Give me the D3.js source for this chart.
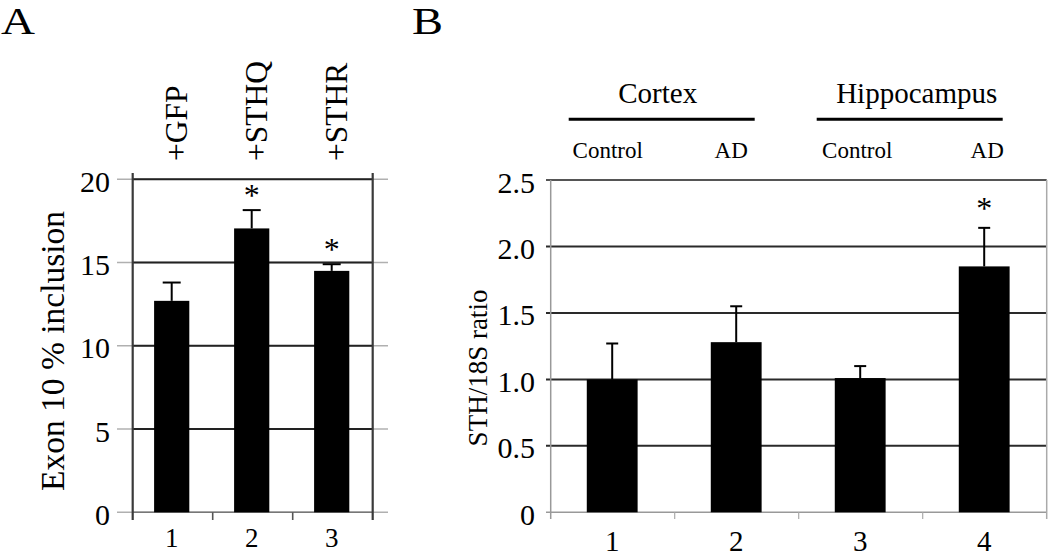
<!DOCTYPE html>
<html>
<head>
<meta charset="utf-8">
<script src="https://cdn.jsdelivr.net/npm/d3@7"></script>
<style>
  html, body { margin: 0; padding: 0; background: #fff; }
  svg { display: block; }
  text { font-family: "Liberation Serif", "Times New Roman", serif; fill: #000; }
</style>
</head>
<body>
<svg id="chart" width="1050" height="560"></svg>
<script>
// ---- Panel A data ----
const panelACategories = ["1", "2", "3"];
const panelATopLabels = ["+GFP", "+STHQ", "+STHR"];
const panelAValues = [12.7, 17.05, 14.5];
const panelAErrors = [1.1, 1.1, 0.4];
const panelASignificant = [false, true, true];
const panelATicks = [0, 5, 10, 15, 20];
const panelATickLabels = ["0", "5", "10", "15", "20"];
const panelAYLabel = "Exon 10 % inclusion";

// ---- Panel B data ----
const panelBCategories = ["1", "2", "3", "4"];
const panelBSubLabels = ["Control", "AD", "Control", "AD"];
const panelBGroupNames = ["Cortex", "Hippocampus"];
const panelBGroupFirst = [0, 2];
const panelBGroupLast = [1, 3];
const panelBValues = [1.0, 1.28, 1.01, 1.85];
const panelBErrors = [0.27, 0.27, 0.09, 0.29];
const panelBSignificant = [false, false, false, true];
const panelBTicks = [0, 0.5, 1.0, 1.5, 2.0, 2.5];
const panelBTickLabels = ["0", "0.5", "1.0", "1.5", "2.0", "2.5"];
const panelBYLabel = "STH/18S ratio";

const svg = d3.select("#chart");
svg.append("rect").attr("width", 1050).attr("height", 560).attr("fill", "#fff");

// ================= Panel A =================
const gA = svg.append("g");
const xA = d3.scaleBand().domain(panelACategories).range([132.7, 372.7]).padding(0);
const yA = d3.scaleLinear().domain([0, 20]).range([512.3, 179.3]);
const barWA = xA.bandwidth() * 0.44;
const cA = i => xA(panelACategories[i]) + xA.bandwidth() / 2 - 1;

// gridlines (outer grey extension, inner dark)
gA.selectAll("line.gridOut").data(panelATicks).join("line")
  .attr("x1", 117).attr("x2", 388)
  .attr("y1", d => yA(d)).attr("y2", d => yA(d))
  .attr("stroke", "#b0b0b0").attr("stroke-width", 1.5);
gA.selectAll("line.gridIn").data(panelATicks).join("line")
  .attr("x1", xA.range()[0]).attr("x2", xA.range()[1])
  .attr("y1", d => yA(d)).attr("y2", d => yA(d))
  .attr("stroke", d => d === 0 ? "#777" : "#222").attr("stroke-width", d => d === 0 ? 1.5 : 2);

// frame verticals
gA.selectAll("line.vert").data(xA.range()).join("line")
  .attr("x1", d => d).attr("x2", d => d)
  .attr("y1", 173).attr("y2", 520)
  .attr("stroke", "#3a3a3a").attr("stroke-width", 2.2);
// inner ticks
gA.selectAll("line.tick").data(panelACategories.slice(1)).join("line")
  .attr("x1", d => xA(d)).attr("x2", d => xA(d))
  .attr("y1", yA(0)).attr("y2", 520)
  .attr("stroke", "#555").attr("stroke-width", 1.6);

// bars
gA.selectAll("rect.bar").data(panelAValues).join("rect")
  .attr("x", (d, i) => cA(i) - barWA / 2)
  .attr("width", barWA)
  .attr("y", d => yA(d)).attr("height", d => yA(0) - yA(d))
  .attr("fill", "#000");

// error bars
const errA = gA.selectAll("g.err").data(panelAValues).join("g");
errA.append("line")
  .attr("x1", (d, i) => cA(i)).attr("x2", (d, i) => cA(i))
  .attr("y1", d => yA(d)).attr("y2", (d, i) => yA(d + panelAErrors[i]))
  .attr("stroke", "#000").attr("stroke-width", 2);
errA.append("line")
  .attr("x1", (d, i) => cA(i) - 9).attr("x2", (d, i) => cA(i) + 9)
  .attr("y1", (d, i) => yA(d + panelAErrors[i])).attr("y2", (d, i) => yA(d + panelAErrors[i]))
  .attr("stroke", "#000").attr("stroke-width", 2);

// asterisks
gA.selectAll("text.star").data(panelAValues.map((v, i) => ({ v, i })).filter(o => panelASignificant[o.i])).join("text")
  .attr("x", o => cA(o.i))
  .attr("y", o => yA(o.v + panelAErrors[o.i]) - 19 + 15)
  .attr("text-anchor", "middle").attr("font-size", 32).text("*");

// y tick labels
gA.selectAll("text.ytick").data(panelATicks).join("text")
  .attr("x", 110).attr("y", d => yA(d) + 2).attr("dy", "0.35em")
  .attr("text-anchor", "end").attr("font-size", 30)
  .text((d, i) => panelATickLabels[i]);

// x tick labels
gA.selectAll("text.xtick").data(panelACategories).join("text")
  .attr("x", (d, i) => cA(i)).attr("y", 547)
  .attr("text-anchor", "middle").attr("font-size", 27)
  .text(d => d);

// rotated top labels
gA.selectAll("text.top").data(panelATopLabels).join("text")
  .attr("transform", (d, i) => `translate(${cA(i) + 4},161) rotate(-90)`)
  .attr("dy", "0.35em").attr("text-anchor", "start").attr("font-size", 31.5)
  .text(d => d);

// y-axis title
gA.append("text")
  .attr("transform", "translate(52,351) rotate(-90)")
  .attr("dy", "0.35em").attr("text-anchor", "middle").attr("font-size", 33.5)
  .text(panelAYLabel);

// panel letter
svg.append("text").attr("x", 1).attr("y", 34).attr("font-size", 37)
  .attr("textLength", 34).attr("lengthAdjust", "spacingAndGlyphs").text("A");

// ================= Panel B =================
const gB = svg.append("g");
const xB = d3.scaleBand().domain(panelBCategories).range([550.7, 1046.7]).padding(0);
const yB = d3.scaleLinear().domain([0, 2.5]).range([512.3, 180]);
const barWB = xB.bandwidth() * 0.41;
const cB = i => xB(panelBCategories[i]) + xB.bandwidth() / 2 - 0.5;

// gridlines
gB.selectAll("line.grid").data(panelBTicks).join("line")
  .attr("x1", 546).attr("x2", xB.range()[1])
  .attr("y1", d => yB(d)).attr("y2", d => yB(d))
  .attr("stroke", d => d === 0 ? "#999" : (d === 2.5 ? "#555" : "#2a2a2a"))
  .attr("stroke-width", d => d === 0 ? 1.5 : 2);

// axis verticals
gB.append("line").attr("x1", xB.range()[0]).attr("x2", xB.range()[0])
  .attr("y1", yB(2.5)).attr("y2", 519).attr("stroke", "#999").attr("stroke-width", 1.5);
gB.append("line").attr("x1", xB.range()[1]).attr("x2", xB.range()[1])
  .attr("y1", yB(2.5)).attr("y2", 519).attr("stroke", "#aaa").attr("stroke-width", 1.5);
gB.selectAll("line.tick").data(panelBCategories.slice(1)).join("line")
  .attr("x1", d => xB(d)).attr("x2", d => xB(d))
  .attr("y1", yB(0)).attr("y2", 519)
  .attr("stroke", "#aaa").attr("stroke-width", 1.2);

// bars
gB.selectAll("rect.bar").data(panelBValues).join("rect")
  .attr("x", (d, i) => cB(i) - barWB / 2)
  .attr("width", barWB)
  .attr("y", d => yB(d)).attr("height", d => yB(0) - yB(d))
  .attr("fill", "#000");

// error bars
const errB = gB.selectAll("g.err").data(panelBValues).join("g");
errB.append("line")
  .attr("x1", (d, i) => cB(i)).attr("x2", (d, i) => cB(i))
  .attr("y1", d => yB(d)).attr("y2", (d, i) => yB(d + panelBErrors[i]))
  .attr("stroke", "#000").attr("stroke-width", 2);
errB.append("line")
  .attr("x1", (d, i) => cB(i) - 6).attr("x2", (d, i) => cB(i) + 6)
  .attr("y1", (d, i) => yB(d + panelBErrors[i])).attr("y2", (d, i) => yB(d + panelBErrors[i]))
  .attr("stroke", "#000").attr("stroke-width", 2);

// asterisks
gB.selectAll("text.star").data(panelBValues.map((v, i) => ({ v, i })).filter(o => panelBSignificant[o.i])).join("text")
  .attr("x", o => cB(o.i))
  .attr("y", o => yB(o.v + panelBErrors[o.i]) - 24 + 15)
  .attr("text-anchor", "middle").attr("font-size", 32).text("*");

// y tick labels
gB.selectAll("text.ytick").data(panelBTicks).join("text")
  .attr("x", 535).attr("y", d => yB(d) + 2).attr("dy", "0.35em")
  .attr("text-anchor", "end").attr("font-size", 30)
  .text((d, i) => panelBTickLabels[i]);

// x tick labels
gB.selectAll("text.xtick").data(panelBCategories).join("text")
  .attr("x", (d, i) => cB(i)).attr("y", 550.7)
  .attr("text-anchor", "middle").attr("font-size", 29)
  .text(d => d);

// y-axis title
gB.append("text")
  .attr("transform", "translate(478,368) rotate(-90)")
  .attr("dy", "0.35em").attr("text-anchor", "middle").attr("font-size", 27)
  .text(panelBYLabel);

// sub labels (Control / AD)
const subOffsets = [-4.5, -5, -3, 3];
gB.selectAll("text.sub").data(panelBSubLabels).join("text")
  .attr("x", (d, i) => cB(i) + subOffsets[i]).attr("y", 158.3)
  .attr("text-anchor", "middle").attr("font-size", 23)
  .text(d => d);

// group lines and names
const groupOffsets = [-4, 7];
panelBGroupNames.forEach((name, g) => {
  const x1 = xB(panelBCategories[panelBGroupFirst[g]]) + 18;
  const x2 = xB(panelBCategories[panelBGroupLast[g]]) + xB.bandwidth() - 44;
  gB.append("line").attr("x1", x1).attr("x2", x2).attr("y1", 119.3).attr("y2", 119.3)
    .attr("stroke", "#000").attr("stroke-width", 3);
  gB.append("text").attr("x", (x1 + x2) / 2 + groupOffsets[g]).attr("y", 102.7)
    .attr("text-anchor", "middle").attr("font-size", 29).text(name);
});

// panel letter
svg.append("text").attr("x", 412).attr("y", 34).attr("font-size", 37)
  .attr("textLength", 31).attr("lengthAdjust", "spacingAndGlyphs").text("B");
</script>
</body>
</html>
